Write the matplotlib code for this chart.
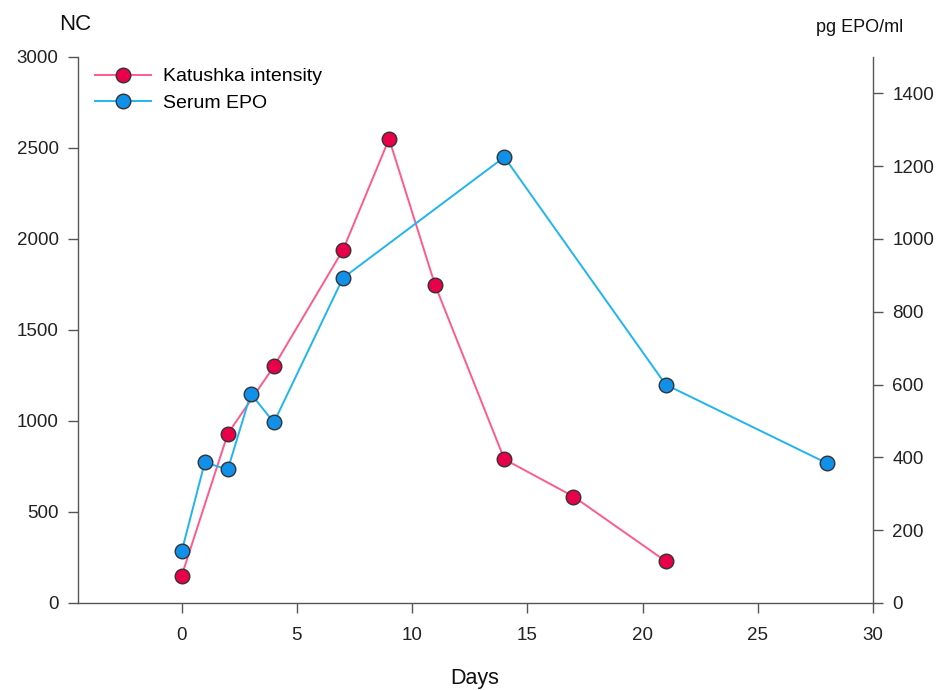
import matplotlib.pyplot as plt

plt.rcParams['font.family'] = ['Liberation Sans', 'DejaVu Sans']

# Katushka intensity (left axis, NC)
kat_days = [0, 2, 4, 7, 9, 11, 14, 17, 21]
kat_nc = [150, 930, 1300, 1940, 2550, 1745, 790, 585, 230]

# Serum EPO (right axis, pg/ml)
epo_days = [0, 1, 2, 3, 4, 7, 14, 21, 28]
epo_pg = [142, 386, 367, 575, 496, 893, 1225, 600, 384]

x_ticks = [0, 5, 10, 15, 20, 25, 30]
left_ticks = [0, 500, 1000, 1500, 2000, 2500, 3000]
right_ticks = [0, 200, 400, 600, 800, 1000, 1200, 1400]

fig = plt.figure(figsize=(9.42, 6.9), dpi=100)
ax = fig.add_axes([0.0828, 0.1261, 0.8440, 0.7913])
ax2 = ax.twinx()

kat_line, = ax.plot(kat_days, kat_nc, color='#ff5a8c', lw=1.4, marker='o', ms=10.5,
                    mfc='#e8004a', mec='#333333', mew=1.0, label='Katushka intensity', zorder=3)
epo_line, = ax2.plot(epo_days, epo_pg, color='#20b4f0', lw=1.4, marker='o', ms=10.5,
                     mfc='#1090e8', mec='#333333', mew=1.0, label='Serum EPO', zorder=3)

ax.set_xlim(-4.5, 30)
ax.set_ylim(0, 3000)
ax2.set_ylim(0, 1500)
ax.set_xticks(x_ticks)
ax.set_yticks(left_ticks)
ax2.set_yticks(right_ticks)

for a in (ax, ax2):
    a.spines['top'].set_visible(False)
    for s in a.spines.values():
        s.set_color('#555555')
        s.set_linewidth(1.0)
    a.tick_params(colors='#555555', labelcolor='#222222', labelsize=13.5, length=7, width=1.0)
ax.spines['right'].set_visible(False)
ax2.spines['left'].set_visible(False)
ax2.spines['bottom'].set_visible(False)
ax.tick_params(axis='x', pad=10)
ax.tick_params(axis='y', pad=7)
ax2.tick_params(axis='y', pad=7)

fig.text(0.080, 0.964, 'NC', fontsize=16, ha='center', va='center', color='#111111')
fig.text(0.913, 0.960, 'pg EPO/ml', fontsize=13, ha='center', va='center', color='#111111')
fig.text(0.504, 0.017, 'Days', fontsize=15.5, ha='center', va='center', color='#111111')

ax.legend([kat_line, epo_line], ['Katushka intensity', 'Serum EPO'], loc='upper left',
          bbox_to_anchor=(0.004, 1.005), frameon=False, fontsize=14, handlelength=2.9,
          handletextpad=0.6, labelspacing=0.45, borderaxespad=0.3)

fig.savefig('out.png', dpi=100)
